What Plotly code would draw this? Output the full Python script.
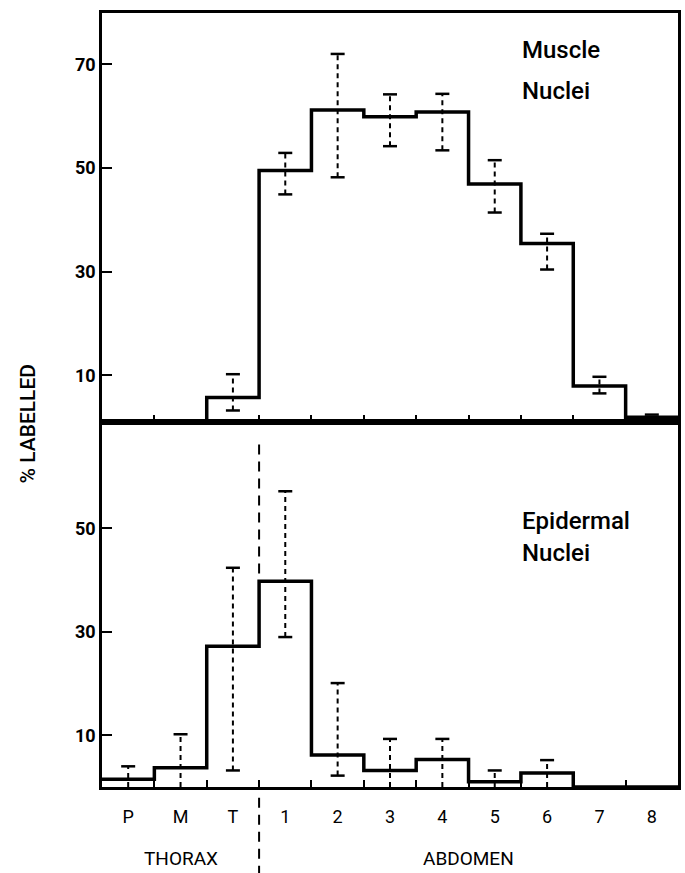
import plotly.graph_objects as go

# ---------------- data ----------------
categories = ["P", "M", "T", "1", "2", "3", "4", "5", "6", "7", "8"]

muscle = [1, 1, 5.7, 49.5, 61.2, 59.9, 60.8, 46.9, 35.4, 7.9, 1.9]
muscle_hi = [None, None, 10.2, 52.9, 72.0, 64.2, 64.3, 51.5, 37.3, 9.7, 2.4]
muscle_lo = [None, None, 3.2, 44.9, 48.2, 54.2, 53.4, 41.4, 30.4, 6.5, None]

epidermal = [1.5, 3.7, 27.2, 39.8, 6.2, 3.2, 5.3, 1.0, 2.7, 0, 0]
epidermal_hi = [4.0, 10.2, 42.4, 57.2, 20.1, 9.3, 9.3, 3.2, 5.2, None, None]
epidermal_lo = [0, 0, 3.2, 29.0, 2.2, 0, 0, 0, 0, None, None]

top_ticks = [10, 30, 50, 70]
bottom_ticks = [10, 30, 50]

regions = ["THORAX", "ABDOMEN"]
region_members = [["P", "M", "T"], ["1", "2", "3", "4", "5", "6", "7", "8"]]

# ---------------- helpers ----------------
n = len(categories)
idx = list(range(n))
edges = [i - 0.5 for i in range(n + 1)]
FONT = "Roboto, DejaVu Sans, sans-serif"


def step_trace(vals, xa, ya):
    return go.Scatter(
        x=edges, y=list(vals) + [vals[-1]], mode="lines", line_shape="hv",
        line=dict(color="black", width=3.5), xaxis=xa, yaxis=ya,
        hoverinfo="skip", showlegend=False)


def err_traces(hi, lo, xa, ya):
    xs, ys = [], []
    for i in idx:
        if hi[i] is None:
            continue
        bottom = lo[i] if lo[i] is not None else hi[i]
        xs += [i, i, None]
        ys += [bottom, hi[i], None]
    line = go.Scatter(x=xs, y=ys, mode="lines",
                      line=dict(color="black", width=2, dash="5px,4px"),
                      xaxis=xa, yaxis=ya, hoverinfo="skip", showlegend=False)
    cx = [i for i in idx if hi[i] is not None]
    cy = [hi[i] for i in cx]
    bx = [i for i in idx if lo[i] is not None and lo[i] > 0]
    by = [lo[i] for i in bx]
    caps = go.Scatter(x=cx + bx, y=cy + by, mode="markers",
                      marker=dict(symbol="line-ew", size=10,
                                  line=dict(color="black", width=2.5)),
                      xaxis=xa, yaxis=ya, hoverinfo="skip", showlegend=False,
                      cliponaxis=False)
    return [line, caps]


fig = go.Figure()
# top panel: muscle nuclei (x2/y2)
fig.add_trace(step_trace(muscle, "x2", "y2"))
for t in err_traces(muscle_hi, muscle_lo, "x2", "y2"):
    fig.add_trace(t)
# bottom panel: epidermal nuclei (x/y)
fig.add_trace(step_trace(epidermal, "x", "y"))
for t in err_traces(epidermal_hi, epidermal_lo, "x", "y"):
    fig.add_trace(t)

split = 0.4716
axis_common = dict(showline=True, mirror=True, linecolor="black", linewidth=2.5,
                   showgrid=False, zeroline=False, automargin=False)
minor_ticks = dict(tickmode="array", tickvals=edges[1:-1], ticks="inside",
                   ticklen=7, tickwidth=2, tickcolor="black")

fig.update_layout(
    width=685, height=873, autosize=False,
    margin=dict(l=102, r=7, t=13, b=86),
    paper_bgcolor="white", plot_bgcolor="white",
    showlegend=False,
    xaxis=dict(**axis_common, range=[edges[0], edges[-1]], anchor="y",
               tickmode="array", tickvals=idx, ticktext=categories, ticks="",
               ticklabelstandoff=12, minor=minor_ticks,
               tickfont=dict(family=FONT, size=18, color="black")),
    xaxis2=dict(**axis_common, range=[edges[0], edges[-1]], anchor="y2",
                matches="x", showticklabels=False, ticks="",
                tickmode="array", tickvals=idx, minor=minor_ticks),
    yaxis=dict(**axis_common, domain=[0, split], range=[0, 70.6],
               tickmode="array", tickvals=bottom_ticks, ticks="inside",
               ticklen=10, tickwidth=2, tickcolor="black",
               ticklabelstandoff=0,
               tickfont=dict(family=FONT, size=18, color="black", weight="bold")),
    yaxis2=dict(**axis_common, domain=[split, 1], range=[0.98, 79.9],
                anchor="x2",
                tickmode="array", tickvals=top_ticks, ticks="inside",
                ticklen=10, tickwidth=2, tickcolor="black",
                ticklabelstandoff=0,
                tickfont=dict(family=FONT, size=18, color="black", weight="bold")),
)

# thorax/abdomen separator (dashed)
sep_x = categories.index(region_members[0][-1]) + 0.5
fig.add_shape(type="line", xref="x", yref="y", x0=sep_x, x1=sep_x,
              y0=max(epidermal[2], epidermal[3]) + 1.5, y1=67.5,
              line=dict(color="black", width=2, dash="10px,7px"))
fig.add_shape(type="line", xref="x", yref="paper", x0=sep_x, x1=sep_x,
              y0=-0.014, y1=-0.12,
              line=dict(color="black", width=2, dash="10px,7px"))

# region labels
for name, members in zip(regions, region_members):
    pos = [categories.index(m) for m in members]
    fig.add_annotation(text=name, x=(pos[0] + pos[-1]) / 2, xref="x",
                       y=-0.092, yref="paper", yanchor="middle",
                       xanchor="center", showarrow=False,
                       font=dict(family=FONT, size=19, color="black"))

# panel titles
for txt, yv, yr in [("Muscle", 72.7, "y2"), ("Nuclei", 64.9, "y2"),
                    ("Epidermal", 51.4, "y"), ("Nuclei", 45.2, "y")]:
    fig.add_annotation(text=txt, x=7.48, xref="x", xanchor="left",
                       y=yv, yref=yr, yanchor="middle", showarrow=False,
                       font=dict(family=FONT, size=24, color="black",
                                 weight=500))

# y-axis title
fig.add_annotation(text="% LABELLED", textangle=-90, x=-0.128, xref="paper",
                   xanchor="center", y=0.47, yref="paper", yanchor="middle",
                   showarrow=False,
                   font=dict(family=FONT, size=21, color="black", weight=500))

fig.write_html(
    "out.html",
    config={"displayModeBar": False},
    post_script="document.body.style.margin='0px';"
                "document.body.style.overflow='hidden';")
